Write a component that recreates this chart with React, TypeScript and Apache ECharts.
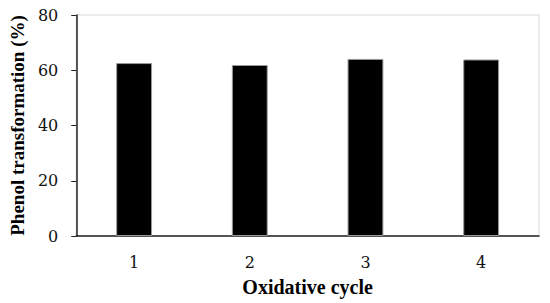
import React, { useEffect, useRef } from "react";
import * as echarts from "echarts";

const categories = ["1", "2", "3", "4"];
const values = [62.6, 61.9, 64.1, 63.9];
const yTicks = { min: 0, max: 80, interval: 20 };
const yTitle = "Phenol transformation (%)";
const xTitle = "Oxidative cycle";

const FONT = "'Liberation Serif', 'DejaVu Serif', serif";
const NUMFONT = "'DejaVu Serif', 'Liberation Serif', serif";

export default function App() {
  const ref = useRef<HTMLDivElement>(null);
  useEffect(() => {
    if (!ref.current) return;
    const chart = echarts.init(ref.current, undefined, { renderer: "svg" });
    chart.setOption({
      animation: false,
      backgroundColor: "#ffffff",
      grid: {
        left: 72,
        right: 11,
        top: 15,
        bottom: 67,
        show: true,
        borderColor: "#d9d9d9",
        borderWidth: 1,
      },
      xAxis: {
        type: "category",
        data: categories,
        name: xTitle,
        nameLocation: "middle",
        nameGap: 41,
        nameTextStyle: { fontFamily: FONT, fontSize: 20, fontWeight: "bold", color: "#000" },
        axisLine: { lineStyle: { color: "#222", width: 1.5 } },
        axisTick: { show: false },
        axisLabel: { fontFamily: NUMFONT, fontSize: 16, color: "#111", margin: 18 },
      },
      yAxis: {
        type: "value",
        min: yTicks.min,
        max: yTicks.max,
        interval: yTicks.interval,
        name: yTitle,
        nameLocation: "middle",
        nameGap: 48,
        nameTextStyle: { fontFamily: FONT, fontSize: 19, fontWeight: "bold", color: "#000" },
        axisLine: { show: true, lineStyle: { color: "#222", width: 1.5 } },
        axisTick: { show: true, length: 5, lineStyle: { color: "#222", width: 1 } },
        axisLabel: { fontFamily: NUMFONT, fontSize: 16, color: "#111", margin: 18 },
        splitLine: { show: false },
      },
      series: [
        {
          type: "bar",
          data: values,
          barWidth: "31%",
          itemStyle: { color: "#000", borderColor: "#999", borderWidth: 1 },
        },
      ],
    });
    return () => chart.dispose();
  }, []);
  return (
    <div
      ref={ref}
      style={{ position: "fixed", left: 0, top: 0, width: 550, height: 303 }}
    />
  );
}
